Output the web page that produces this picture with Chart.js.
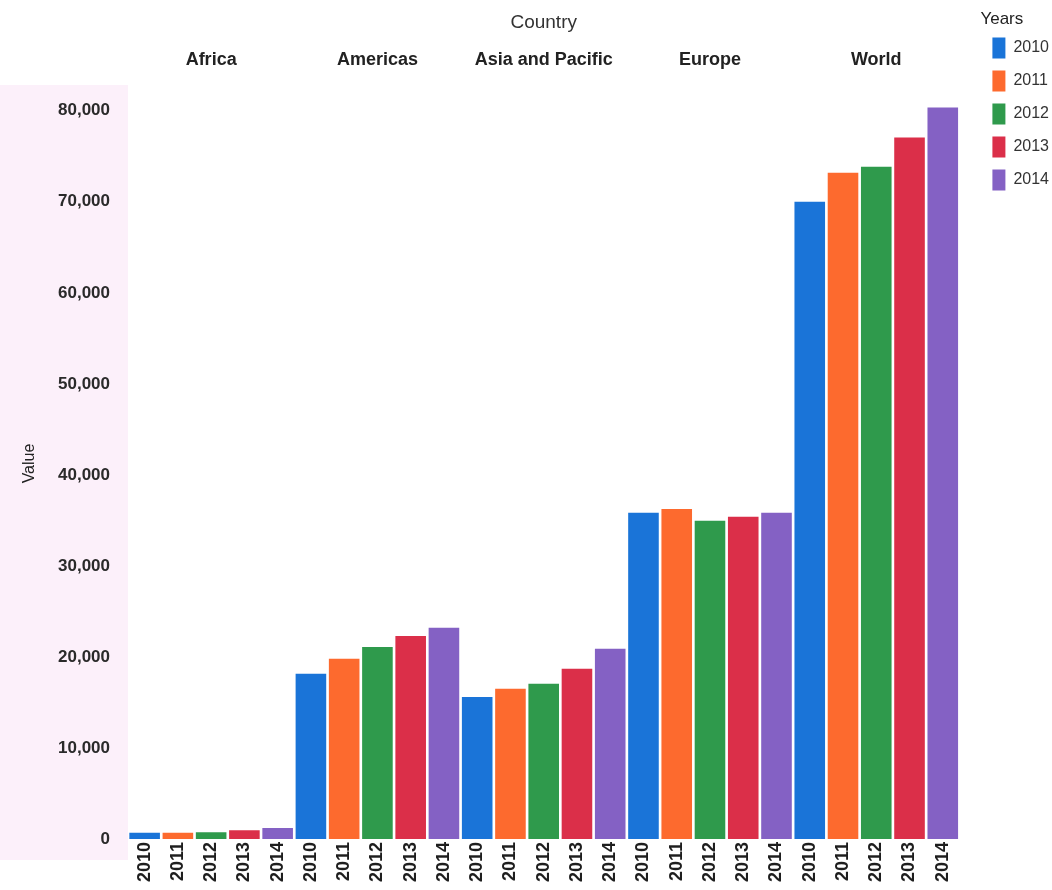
<!DOCTYPE html>
<html>
<head>
<meta charset="utf-8">
<title>Value by country and year</title>
<script src="https://cdn.jsdelivr.net/npm/chart.js@4/dist/chart.umd.min.js"></script>
<style>
  html, body { margin: 0; padding: 0; background: #fff; }
  #wrap { width: 1052px; height: 890px; position: relative; }
</style>
</head>
<body>
<div id="wrap"><canvas id="chart"></canvas></div>
<script>
// ── Data ─────────────────────────────────────────────────────────
const countries = ['Africa', 'Americas', 'Asia and Pacific', 'Europe', 'World'];
const years     = ['2010', '2011', '2012', '2013', '2014'];

const africa   = [700, 680, 750, 950, 1200];
const americas = [18150, 19800, 21100, 22300, 23200];
const asiaPac  = [15600, 16500, 17050, 18700, 20900];
const europe   = [35850, 36250, 34950, 35400, 35850];
const world    = [70000, 73200, 73850, 77050, 80350];

const yTicks = [0, 10000, 20000, 30000, 40000, 50000, 60000, 70000, 80000];

const COLORS = ['#1a74d8', '#fd6a2e', '#2f9a4c', '#db2f49', '#8461c4'];

// one x slot per (country, year) pair
const byCountry = [africa, americas, asiaPac, europe, world];
const labels = countries.flatMap(() => years);

// each year gets its own dataset, holding values only in its own slots
const datasets = years.map((yr, j) => ({
  label: yr,
  data: labels.map((_, k) => (k % 5 === j ? byCountry[Math.floor(k / 5)][j] : null)),
  backgroundColor: COLORS[j],
  borderWidth: 0,
  grouped: false,
  barPercentage: 0.92,
  categoryPercentage: 1
}));

// ── Pink band behind the value axis ──────────────────────────────
const axisBand = {
  id: 'axisBand',
  beforeDraw(chart) {
    const { ctx, chartArea } = chart;
    ctx.save();
    ctx.fillStyle = '#fcf0fa';
    ctx.fillRect(0, chartArea.top - 3, chartArea.left, chartArea.bottom - chartArea.top + 24);
    ctx.restore();
  }
};

const FONT = '"Liberation Sans", Arial, sans-serif';
Chart.defaults.font.family = FONT;
Chart.defaults.color = '#2a2a2a';

new Chart(document.getElementById('chart'), {
  type: 'bar',
  data: { labels, datasets },
  plugins: [axisBand],
  options: {
    responsive: true,
    maintainAspectRatio: false,
    animation: false,
    layout: { padding: { top: 0, right: -7, bottom: 0, left: 0 } },
    scales: {
      x: {
        grid: { display: false, drawTicks: false },
        border: { display: false },
        ticks: {
          autoSkip: false,
          minRotation: 90,
          maxRotation: 90,
          padding: 3,
          color: '#1e1e1e',
          font: { size: 18, weight: 'bold' }
        },
        afterFit: s => { s.height = 51; }
      },
      x2: {
        type: 'category',
        position: 'top',
        labels: countries,
        grid: { display: false, drawTicks: false },
        border: { display: false },
        ticks: { padding: 17, color: '#222', font: { size: 18, weight: 'bold' } },
        title: {
          display: true,
          text: 'Country',
          color: '#333',
          font: { size: 19 },
          padding: { top: 11, bottom: 4 }
        },
        afterFit: s => { s.height = 88; }
      },
      y: {
        min: 0,
        max: 82500,
        grid: { display: false },
        border: { display: false },
        afterBuildTicks: s => { s.ticks = yTicks.map(value => ({ value })); },
        ticks: {
          padding: 10,
          color: '#2a2a2a',
          font: { size: 17, weight: 'bold' },
          callback: v => v.toLocaleString('en-US')
        },
        title: {
          display: true,
          text: 'Value',
          color: '#222',
          font: { size: 16 },
          padding: { top: 20, bottom: 4 }
        },
        afterFit: s => { s.width = 128; }
      },
      // empty spacer between the plot and the legend
      gap: {
        type: 'linear',
        position: 'right',
        grid: { display: false, drawTicks: false },
        border: { display: false },
        ticks: { display: false },
        afterFit: s => { s.width = 21; }
      }
    },
    plugins: {
      tooltip: { enabled: false },
      legend: {
        position: 'right',
        align: 'start',
        title: {
          display: true,
          text: 'Years',
          position: 'start',
          color: '#222',
          font: { size: 17 },
          padding: { top: 11, bottom: -6 }
        },
        labels: {
          boxWidth: 13,
          boxHeight: 21,
          padding: 12,
          color: '#333',
          font: { size: 16 }
        }
      }
    }
  }
});
</script>
</body>
</html>
